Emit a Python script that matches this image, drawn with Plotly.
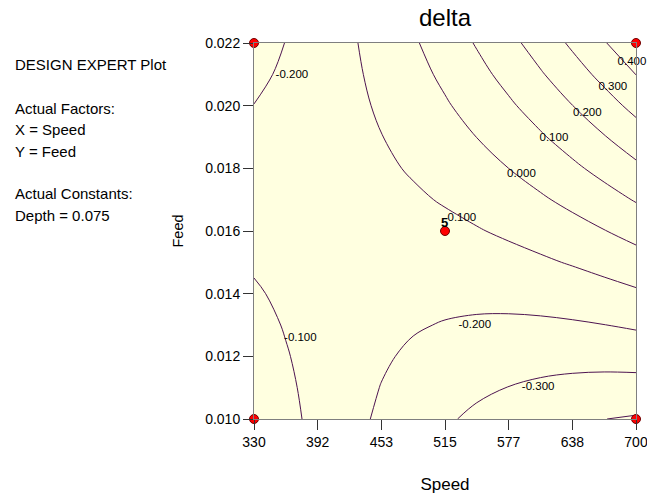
import plotly.graph_objects as go

# Grid of the response surface (delta)
speed = [330, 360.8, 391.7, 422.5, 453.3, 484.2, 515, 545.8, 576.7, 607.5, 638.3, 669.2, 700]
feed = [0.010, 0.011, 0.012, 0.013, 0.014, 0.015, 0.016, 0.017, 0.018, 0.019, 0.020, 0.021, 0.022]
delta = [
    [-0.019, -0.0741, -0.1251, -0.1720, -0.2148, -0.2534, -0.2880, -0.3184, -0.3448, -0.3670, -0.3851, -0.3991, -0.4090],
    [-0.037, -0.0845, -0.1278, -0.1671, -0.2022, -0.2333, -0.2602, -0.2830, -0.3017, -0.3163, -0.3267, -0.3331, -0.3353],
    [-0.055, -0.0948, -0.1305, -0.1622, -0.1897, -0.2131, -0.2323, -0.2475, -0.2586, -0.2655, -0.2683, -0.2671, -0.2617],
    [-0.073, -0.1052, -0.1333, -0.1573, -0.1771, -0.1929, -0.2045, -0.2120, -0.2155, -0.2148, -0.2099, -0.2010, -0.1880],
    [-0.091, -0.1156, -0.1360, -0.1523, -0.1646, -0.1727, -0.1767, -0.1765, -0.1723, -0.1640, -0.1516, -0.1350, -0.1143],
    [-0.109, -0.1259, -0.1387, -0.1474, -0.1520, -0.1525, -0.1488, -0.1411, -0.1292, -0.1133, -0.0932, -0.0690, -0.0407],
    [-0.127, -0.1363, -0.1414, -0.1425, -0.1395, -0.1323, -0.1210, -0.1056, -0.0861, -0.0625, -0.0348, -0.0029, 0.0330],
    [-0.145, -0.1466, -0.1442, -0.1376, -0.1269, -0.1121, -0.0932, -0.0701, -0.0430, -0.0118, 0.0236, 0.0631, 0.1067],
    [-0.163, -0.1570, -0.1469, -0.1327, -0.1143, -0.0919, -0.0653, -0.0347, 0.0001, 0.0390, 0.0820, 0.1291, 0.1803],
    [-0.181, -0.1674, -0.1496, -0.1278, -0.1018, -0.0717, -0.0375, 0.0008, 0.0432, 0.0898, 0.1404, 0.1952, 0.2540],
    [-0.199, -0.1777, -0.1523, -0.1228, -0.0892, -0.0515, -0.0097, 0.0363, 0.0863, 0.1405, 0.1988, 0.2612, 0.3277],
    [-0.217, -0.1881, -0.1551, -0.1179, -0.0767, -0.0313, 0.0182, 0.0718, 0.1294, 0.1913, 0.2572, 0.3273, 0.4013],
    [-0.235, -0.1985, -0.1578, -0.1130, -0.0641, -0.0111, 0.0460, 0.1072, 0.1726, 0.2420, 0.3156, 0.3933, 0.4750],
]

# Contour labels as placed in the reference
label_text = ["-0.200", "0.400", "0.300", "0.200", "0.100", "0.000", "-0.100", "-0.100", "-0.200", "-0.300"]
label_speed = [366.7, 696.1, 677.6, 652.8, 620.5, 589.0, 529.5, 374.9, 543.9, 605.2]
label_feed = [0.02099, 0.02140, 0.02060, 0.01977, 0.01897, 0.01780, 0.01642, 0.01259, 0.01301, 0.01101]

# Design points
design_speed = [330, 330, 700, 700, 515]
design_feed = [0.010, 0.022, 0.010, 0.022, 0.016]
design_runs = ["", "", "", "", "5"]

# Tick labels
x_tickvals = [330, 391.67, 453.33, 515, 576.67, 638.33, 700]
x_ticktext = ["330", "392", "453", "515", "577", "638", "700"]
y_tickvals = [0.010, 0.012, 0.014, 0.016, 0.018, 0.020, 0.022]
y_ticktext = ["0.010", "0.012", "0.014", "0.016", "0.018", "0.020", "0.022"]

info_lines = ["DESIGN EXPERT Plot", "Actual Factors:", "X = Speed", "Y = Feed",
              "Actual Constants:", "Depth = 0.075"]
info_y_px = [65, 108, 129, 151, 193, 215]

FONT = "Arial, Liberation Sans, sans-serif"
LINE_COLOR = "#4d1450"

fig = go.Figure()
fig.add_trace(go.Contour(
    x=speed, y=feed, z=delta,
    contours=dict(start=-0.4, end=0.4, size=0.1, coloring="none", showlabels=False),
    line=dict(color=LINE_COLOR, width=1),
    showscale=False, hoverinfo="skip",
))
fig.add_trace(go.Scatter(
    x=label_speed, y=label_feed, mode="text", text=label_text,
    textposition="middle center",
    textfont=dict(family=FONT, size=11.5, color="#000000"),
    cliponaxis=False, showlegend=False, hoverinfo="skip",
))
fig.add_trace(go.Scatter(
    x=design_speed, y=design_feed, mode="markers",
    marker=dict(color="#ff0000", size=9, line=dict(color="#700000", width=1)),
    cliponaxis=False, showlegend=False, hoverinfo="skip",
))

W, H = 647, 497
L, R, T, B = 254, 11, 43, 78
ph = H - T - B
pw = W - L - R
annotations = []
for txt, ypx in zip(info_lines, info_y_px):
    annotations.append(dict(
        text=txt, xref="paper", yref="paper",
        x=(13 - L) / pw, y=(H - B - ypx) / ph,
        xanchor="left", yanchor="middle", showarrow=False,
        font=dict(family=FONT, size=15, color="#000000"),
    ))
for sx, fy, run in zip(design_speed, design_feed, design_runs):
    if run:
        annotations.append(dict(
            text="<b>" + run + "</b>", x=sx, y=fy, xref="x", yref="y",
            xanchor="center", yanchor="middle", yshift=9, xshift=-1, showarrow=False,
            font=dict(family=FONT, size=13, color="#000000"),
        ))

fig.update_layout(
    width=W, height=H,
    margin=dict(l=L, r=R, t=T, b=B, autoexpand=False),
    paper_bgcolor="#ffffff", plot_bgcolor="#ffffe0",
    showlegend=False,
    title=dict(text="delta", x=445 / W, xanchor="center", y=1 - 18 / H, yanchor="middle",
               font=dict(family=FONT, size=24, color="#000000")),
    annotations=annotations,
    xaxis=dict(range=[330, 700], tickvals=x_tickvals, ticktext=x_ticktext,
               ticks="outside", ticklen=10, tickcolor="#333333", automargin=False,
               ticklabeloverflow="allow",
               showline=True, mirror=True, linecolor="#7f7f7f", linewidth=1,
               showgrid=False, zeroline=False,
               tickfont=dict(family=FONT, size=14, color="#000000"),
               title=dict(text="Speed", font=dict(family=FONT, size=17, color="#000000"), standoff=29)),
    yaxis=dict(range=[0.010, 0.022], tickvals=y_tickvals, ticktext=y_ticktext,
               ticks="outside", ticklen=10, tickcolor="#333333", automargin=False,
               showline=True, mirror=True, linecolor="#7f7f7f", linewidth=1,
               showgrid=False, zeroline=False,
               tickfont=dict(family=FONT, size=14, color="#000000"),
               title=dict(text="Feed", font=dict(family=FONT, size=14.5, color="#000000"), standoff=18)),
)

fig.write_html("out.html", config={"displayModeBar": False},
               post_script="document.body.style.margin='0';document.body.style.overflow='hidden';")
